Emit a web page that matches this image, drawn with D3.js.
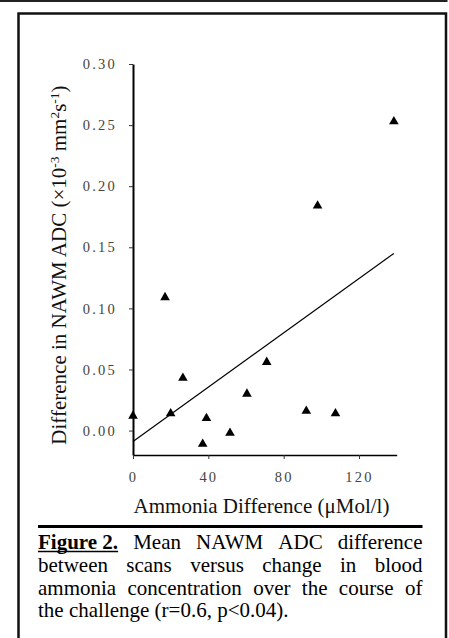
<!DOCTYPE html>
<html><head><meta charset="utf-8">
<script src="https://cdn.jsdelivr.net/npm/d3@7"></script>
<style>
html,body{margin:0;padding:0;background:#fff;}
svg{display:block;}
</style></head>
<body>
<script>
// ---- data ----
const ammoniaDiff = [0, 17, 20, 26.5, 37, 39, 51.5, 60.5, 71, 92, 98, 107.5, 138.5];
const adcDiff = [0.012, 0.109, 0.014, 0.043, -0.011, 0.010, -0.002, 0.030, 0.056, 0.016, 0.184, 0.014, 0.253];
const trendX = [0, 138.5];
const trendY = [-0.009, 0.145];
const xTicks = [0, 40, 80, 120];
const yTicks = [0.00, 0.05, 0.10, 0.15, 0.20, 0.25, 0.30];
const xDomain = [0, 140];
const yDomain = [-0.02, 0.30];
const captionLines = [
  ["Mean", "NAWM", "ADC", "difference"],
  ["between", "scans", "versus", "change", "in", "blood"],
  ["ammonia", "concentration", "over", "the", "course", "of"],
  ["the challenge (r=0.6, p<0.04)."]
];

const W = 449, H = 638;
const svg = d3.select("body").append("svg").attr("width", W).attr("height", H);
const serif = "'Liberation Serif','Times New Roman',Times,serif";

// frames
svg.append("line").attr("x1", -5).attr("x2", 446.5).attr("y1", 1).attr("y2", 1)
  .attr("stroke", "#222").attr("stroke-width", 2);
svg.append("line").attr("x1", 446.5).attr("x2", 446.5).attr("y1", -5).attr("y2", 2)
  .attr("stroke", "#222").attr("stroke-width", 2);
svg.append("path").attr("d", "M18.5,650 L18.5,13.5 L446,13.5 L446,650")
  .attr("fill", "none").attr("stroke", "#111").attr("stroke-width", 2.5);

const x = d3.scaleLinear().domain(xDomain).range([133, 396.7]);
const y = d3.scaleLinear().domain(yDomain).range([455, 64]);

// axes
const yAxis = svg.append("g").attr("transform", "translate(133,0)")
  .call(d3.axisLeft(y).tickValues(yTicks).tickSize(4).tickSizeOuter(0).tickPadding(12)
    .tickFormat(d => d.toFixed(2)));
yAxis.attr("font-family", serif);
yAxis.select(".domain").attr("stroke", "#000").attr("stroke-width", 2);
yAxis.selectAll(".tick line").attr("stroke", "#333").attr("stroke-width", 1);
yAxis.selectAll(".tick text").attr("font-family", serif).attr("font-size", 14.5)
  .attr("fill", "#444").attr("letter-spacing", "2.2px");

const xAxis = svg.append("g").attr("transform", "translate(0,455)")
  .call(d3.axisBottom(x).tickValues(xTicks).tickSize(4).tickSizeOuter(0).tickPadding(13)
    .tickFormat(d3.format("d")));
xAxis.attr("font-family", serif);
xAxis.select(".domain").attr("stroke", "#000").attr("stroke-width", 1.5);
xAxis.selectAll(".tick line").attr("stroke", "#333").attr("stroke-width", 1);
xAxis.selectAll(".tick text").attr("font-family", serif).attr("font-size", 14.5)
  .attr("fill", "#444").attr("letter-spacing", "2.2px");

// trend line
svg.append("path")
  .attr("d", d3.line().x(d => x(d[0])).y(d => y(d[1]))(d3.zip(trendX, trendY)))
  .attr("stroke", "#000").attr("stroke-width", 1.2).attr("fill", "none");

// markers
svg.append("g").selectAll("path").data(d3.zip(ammoniaDiff, adcDiff)).join("path")
  .attr("d", d3.symbol().type(d3.symbolTriangle).size(40))
  .attr("transform", d => `translate(${x(d[0])},${y(d[1])})`)
  .attr("fill", "#000");

// y title
const yt = svg.append("text").attr("transform", "translate(66,265) rotate(-90)")
  .attr("text-anchor", "middle").attr("font-family", serif).attr("font-size", 21).attr("fill", "#111");
yt.append("tspan").text("Difference in NAWM ADC (\u00d710");
yt.append("tspan").attr("dy", -7).attr("font-size", 13.5).text("-3");
yt.append("tspan").attr("dy", 7).text(" mm");
yt.append("tspan").attr("dy", -7).attr("font-size", 13.5).text("2");
yt.append("tspan").attr("dy", 7).text("s");
yt.append("tspan").attr("dy", -7).attr("font-size", 13.5).text("-1");
yt.append("tspan").attr("dy", 7).text(")");

// x title
svg.append("text").attr("x", 261.5).attr("y", 513).attr("text-anchor", "middle")
  .attr("font-family", serif).attr("font-size", 21).attr("fill", "#111")
  .text("Ammonia Difference (\u03bcMol/l)");

// caption rule
svg.append("line").attr("x1", 38).attr("x2", 422.5).attr("y1", 526.5).attr("y2", 526.5)
  .attr("stroke", "#000").attr("stroke-width", 3);

// caption
const capL = 38, capR = 422.5, base = [549, 572, 595, 617];
const cap = svg.append("g").attr("font-family", serif).attr("font-size", 21).attr("fill", "#000");
function measure(txt, bold) {
  const t = cap.append("text").attr("font-weight", bold ? "bold" : null).text(txt);
  const w = t.node().getComputedTextLength(); t.remove(); return w;
}
captionLines.forEach((words, i) => {
  let items = words.map(w => ({t: w, bold: false}));
  if (i === 0) items.unshift({t: "Figure 2.", bold: true, u: true});
  items.forEach(it => it.w = measure(it.t, it.bold));
  const total = d3.sum(items, d => d.w);
  const last = i === captionLines.length - 1;
  const gap = last ? 5 : (capR - capL - total) / (items.length - 1);
  let cx = capL;
  items.forEach(it => {
    cap.append("text").attr("x", cx).attr("y", base[i])
      .attr("font-weight", it.bold ? "bold" : null).text(it.t);
    if (it.u) cap.append("line").attr("x1", cx).attr("x2", cx + it.w)
      .attr("y1", base[i] + 2.5).attr("y2", base[i] + 2.5).attr("stroke", "#000").attr("stroke-width", 1.5);
    cx += it.w + gap;
  });
});
</script>
</body></html>
